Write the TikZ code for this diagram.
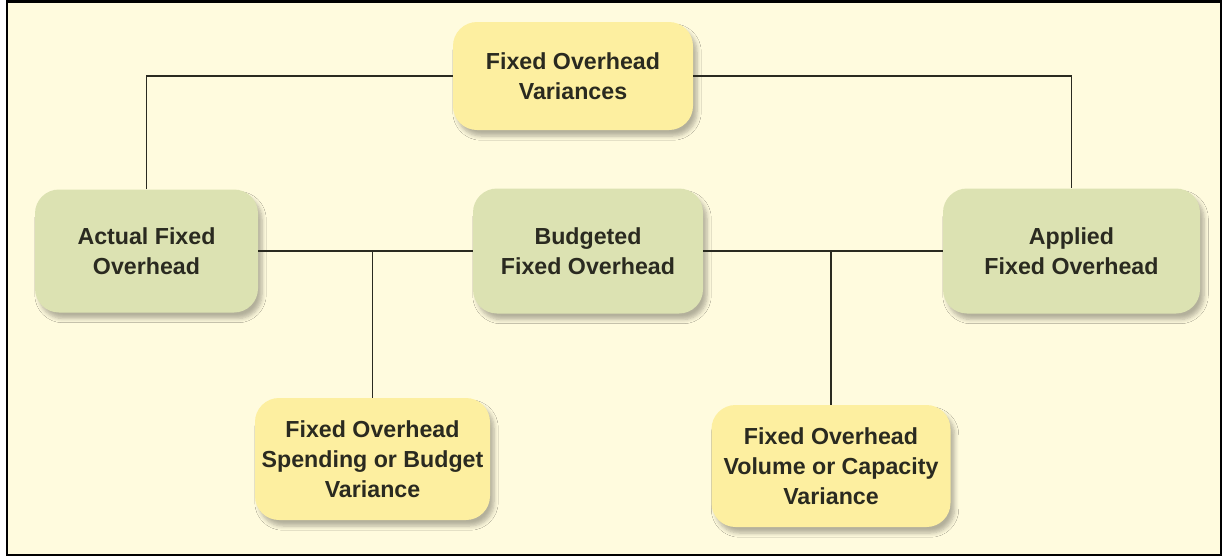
\documentclass[tikz,border=0pt]{standalone}
\usepackage{fontspec}
\setmainfont{Liberation Sans}
\usetikzlibrary{shadows.blur}
\definecolor{paper}{RGB}{255,251,222}
\definecolor{sand}{RGB}{253,239,160}
\definecolor{sage}{RGB}{220,226,178}
\definecolor{ink}{RGB}{42,42,32}

\begin{document}
\begin{tikzpicture}[x = 0.5pt, y = -0.5pt]
				\tikzset{box/.style = {shape=rectangle, rounded corners=12pt, align=center, inner sep=0pt, text=ink, font=\fontsize{11.6}{15}\selectfont\bfseries, blur shadow={shadow xshift=2pt, shadow yshift=-3pt, shadow blur steps=6, shadow opacity=30}},
					variance/.style = {box, fill=sand},
					amount/.style = {box, fill=sage},
					link/.style = {draw=ink, line width=0.9pt}}
				
				\useasboundingbox (0,0) rectangle (1224,558);
				\fill[white] (0,0) rectangle (1224,558);
				\draw[fill=paper, line width=1.2pt] (7,1.5) rectangle (1221,555);
				
				\node[variance, minimum width=120pt, minimum height=54pt] (top) at (573,76) {Fixed Overhead\\Variances};
				
				\node[amount, minimum width=111.5pt, minimum height=61.5pt] (actual) at (146.5,251) {Actual Fixed\\Overhead};
				\node[amount, minimum width=115pt, minimum height=62.5pt] (budget) at (588,251) {Budgeted\\Fixed Overhead};
				\node[amount, minimum width=128.5pt, minimum height=62.5pt] (applied) at (1071.5,251) {Applied\\Fixed Overhead};
				
				\node[variance, minimum width=117.5pt, minimum height=61pt] (spend) at (372.5,459) {Fixed Overhead\\Spending or Budget\\Variance};
				\node[variance, minimum width=119.5pt, minimum height=61pt] (volume) at (831,466) {Fixed Overhead\\Volume or Capacity\\Variance};
				
				\draw[link] (actual.north) |- (top.west);
				\draw[link] (top.east) -| (applied.north);
				\draw[link] (actual.east) -- (budget.west);
				\draw[link] (budget.east) -- (applied.west);
				\draw[link] (spend.north) -- (spend.north |- actual.east);
				\draw[link] (volume.north) -- (volume.north |- budget.east);
				
			\end{tikzpicture}
\end{document}
